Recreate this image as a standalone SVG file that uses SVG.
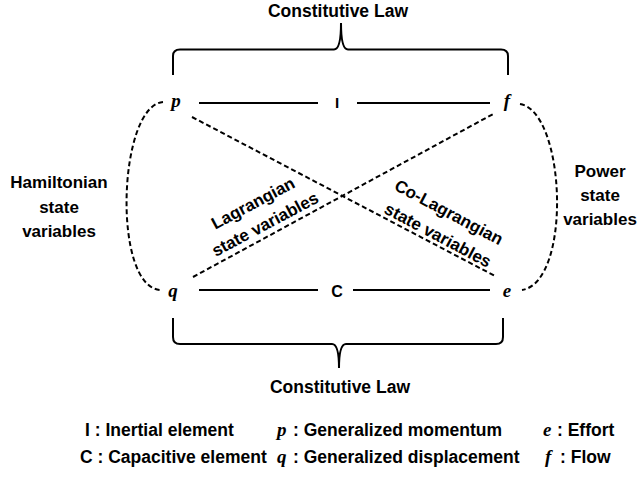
<svg xmlns="http://www.w3.org/2000/svg" width="637" height="477" viewBox="0 0 637 477">
  <style>
    .lbl { font-family: "Liberation Sans", Arial, sans-serif; font-weight: bold; fill: #000; }
    .h { font-size: 17.5px; text-anchor: middle; }
    .s { font-size: 17px; text-anchor: middle; }
    .leg { font-size: 17.5px; }
    .var { font-family: "Liberation Serif", "Times New Roman", serif; font-style: italic; font-weight: bold; font-size: 19px; fill: #000; }
    .solid { fill: none; stroke: #000; stroke-width: 2; }
    .dash { fill: none; stroke: #000; stroke-width: 2; stroke-dasharray: 5 3; }
  </style>
  <rect width="637" height="477" fill="#fff"/>

  <g id="top-law">
    <text class="lbl h" x="338" y="17">Constitutive Law</text>
    <path class="solid" d="M173,75 V56 Q173,49.5 180,49.5 H334 Q341,49.5 341,23 Q341,49.5 348,49.5 H501 Q508,49.5 508,56 V75"/>
  </g>

  <g id="bottom-law">
    <path class="solid" d="M173,318 V337 Q173,344 180,344 H332 Q339,344 339,368 Q339,344 346,344 H496 Q503,344 503,337 V318"/>
    <text class="lbl h" x="340" y="393">Constitutive Law</text>
  </g>

  <g id="connectors">
    <line class="solid" x1="199" y1="103" x2="318" y2="103"/>
    <line class="solid" x1="357" y1="103" x2="490" y2="103"/>
    <line class="solid" x1="199" y1="290" x2="318" y2="290"/>
    <line class="solid" x1="353" y1="290" x2="490" y2="290"/>
    <line class="dash" x1="192" y1="117" x2="495" y2="276"/>
    <line class="dash" x1="193" y1="277" x2="495" y2="113"/>
    <path class="dash" d="M163,102 C118,106 112,286 160,290"/>
    <path class="dash" d="M520,104 C566,112 572,282 522,290"/>
  </g>

  <g id="node-p"><text class="var" x="176" y="107" text-anchor="middle">p</text></g>
  <g id="node-f"><text class="var" x="507" y="107" text-anchor="middle">f</text></g>
  <g id="node-q"><text class="var" x="173" y="297" text-anchor="middle">q</text></g>
  <g id="node-e"><text class="var" x="507" y="297" text-anchor="middle">e</text></g>
  <g id="node-I"><text class="lbl" x="337" y="108" font-size="15" text-anchor="middle">I</text></g>
  <g id="node-C"><text class="lbl" x="337" y="297" font-size="16" text-anchor="middle">C</text></g>

  <g id="hamiltonian">
    <text class="lbl s" x="59" y="188">Hamiltonian</text>
    <text class="lbl s" x="59" y="213">state</text>
    <text class="lbl s" x="59" y="237">variables</text>
  </g>

  <g id="power">
    <text class="lbl s" x="600" y="177">Power</text>
    <text class="lbl s" x="600" y="201">state</text>
    <text class="lbl s" x="600" y="225">variables</text>
  </g>

  <g id="lagrangian">
    <text class="lbl s" transform="translate(253,203) rotate(-28)" x="0" y="6">Lagrangian</text>
    <text class="lbl s" transform="translate(265,224) rotate(-28)" x="0" y="6">state variables</text>
  </g>

  <g id="co-lagrangian">
    <text class="lbl s" transform="translate(449,212) rotate(28)" x="0" y="6">Co-Lagrangian</text>
    <text class="lbl s" transform="translate(438,235) rotate(28)" x="0" y="6">state variables</text>
  </g>

  <g id="legend">
    <text class="lbl leg" x="85" y="436">I : Inertial element</text>
    <text class="lbl leg" x="80" y="463">C : Capacitive element</text>
    <text class="var" x="277" y="436">p</text>
    <text class="lbl leg" x="293" y="436">: Generalized momentum</text>
    <text class="var" x="277" y="463">q</text>
    <text class="lbl leg" x="293" y="463">: Generalized displacement</text>
    <text class="var" x="543" y="436">e</text>
    <text class="lbl leg" x="557" y="436">: Effort</text>
    <text class="var" x="545" y="463">f</text>
    <text class="lbl leg" x="560" y="463">: Flow</text>
  </g>
</svg>
